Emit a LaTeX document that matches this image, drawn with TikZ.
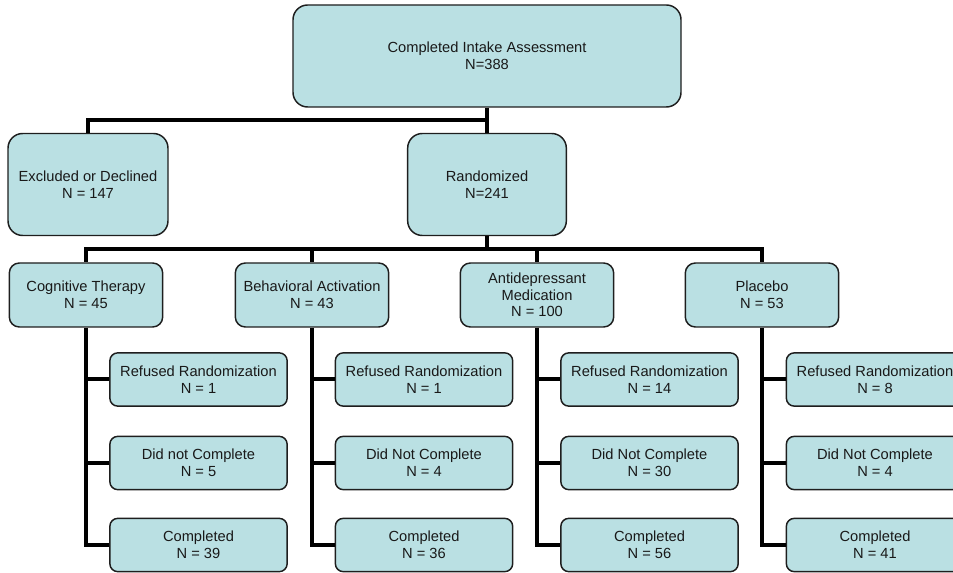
\documentclass[tikz,border=0pt]{standalone}
\usepackage{fontspec}
\setmainfont{Liberation Sans}
\definecolor{boxfill}{RGB}{186,224,227}
\definecolor{boxline}{RGB}{30,30,30}
\definecolor{boxtext}{RGB}{25,25,25}
\begin{document}
\begin{tikzpicture}[x=0.75pt,y=-0.75pt,
    box/.style={draw=boxline,fill=boxfill,line width=1.1pt,align=center,
      text=boxtext,inner sep=0pt,font=\fontsize{11}{12.5}\selectfont},
    stagebox/.style={box,rounded corners=11pt,minimum height=76.5pt},
    armbox/.style={box,rounded corners=7.5pt,minimum width=115pt,minimum height=48pt},
    outcomebox/.style={box,rounded corners=6pt,minimum width=133pt,minimum height=40pt},
    link/.style={draw,line width=3pt}]

        \useasboundingbox (0,0) rectangle (953,573);
        \clip (0,0) rectangle (953,573);

        % study flow
        \begin{scope}[every node/.style={stagebox}]
          \node[minimum width=291pt] (intake)     at (487,56)    {Completed Intake Assessment\\N=388};
          \node[minimum width=120pt] (excluded)   at (88,184.5)  {Excluded or Declined\\N = 147};
          \node[minimum width=119pt] (randomized) at (487,184.5) {Randomized\\N=241};
        \end{scope}

        \begin{scope}[every node/.style={armbox}]
          \node (ct)  at (86,295)  {Cognitive Therapy\\N = 45};
          \node (ba)  at (312,295) {Behavioral Activation\\N = 43};
          \node (adm) at (537,295) {Antidepressant\\Medication\\N = 100};
          \node (pbo) at (762,295) {Placebo\\N = 53};
        \end{scope}

        \begin{scope}[every node/.style={outcomebox}]
          \node (ct-ref)   at (198.5,379.5) {Refused Randomization\\N = 1};
          \node (ct-dnc)   at (198.5,463)   {Did not Complete\\N = 5};
          \node (ct-comp)  at (198.5,545)   {Completed\\N = 39};
          \node (ba-ref)   at (424,379.5)   {Refused Randomization\\N = 1};
          \node (ba-dnc)   at (424,463)     {Did Not Complete\\N = 4};
          \node (ba-comp)  at (424,545)     {Completed\\N = 36};
          \node (adm-ref)  at (649.5,379.5) {Refused Randomization\\N = 14};
          \node (adm-dnc)  at (649.5,463)   {Did Not Complete\\N = 30};
          \node (adm-comp) at (649.5,545)   {Completed\\N = 56};
          \node (pbo-ref)  at (875,379.5)   {Refused Randomization\\N = 8};
          \node (pbo-dnc)  at (875,463)     {Did Not Complete\\N = 4};
          \node (pbo-comp) at (875,545)     {Completed\\N = 41};
        \end{scope}

        \coordinate (split1) at (487,120.5);
        \coordinate (split2) at (487,249);

        \begin{scope}[every path/.style={link}]
          \path (intake) -- (randomized);
          \path (split1) -| (excluded);
          \path (randomized) -- (split2);
          \path (split2) -| (ct);
          \path (split2) -| (ba);
          \path (split2) -| (adm);
          \path (split2) -| (pbo);

          \path (ct.south) |- (ct-comp.west);
          \path (ct-ref.west -| ct.south) -- (ct-ref);
          \path (ct-dnc.west -| ct.south) -- (ct-dnc);
          \path (ba.south) |- (ba-comp.west);
          \path (ba-ref.west -| ba.south) -- (ba-ref);
          \path (ba-dnc.west -| ba.south) -- (ba-dnc);
          \path (adm.south) |- (adm-comp.west);
          \path (adm-ref.west -| adm.south) -- (adm-ref);
          \path (adm-dnc.west -| adm.south) -- (adm-dnc);
          \path (pbo.south) |- (pbo-comp.west);
          \path (pbo-ref.west -| pbo.south) -- (pbo-ref);
          \path (pbo-dnc.west -| pbo.south) -- (pbo-dnc);
        \end{scope}

      \end{tikzpicture}
\end{document}
